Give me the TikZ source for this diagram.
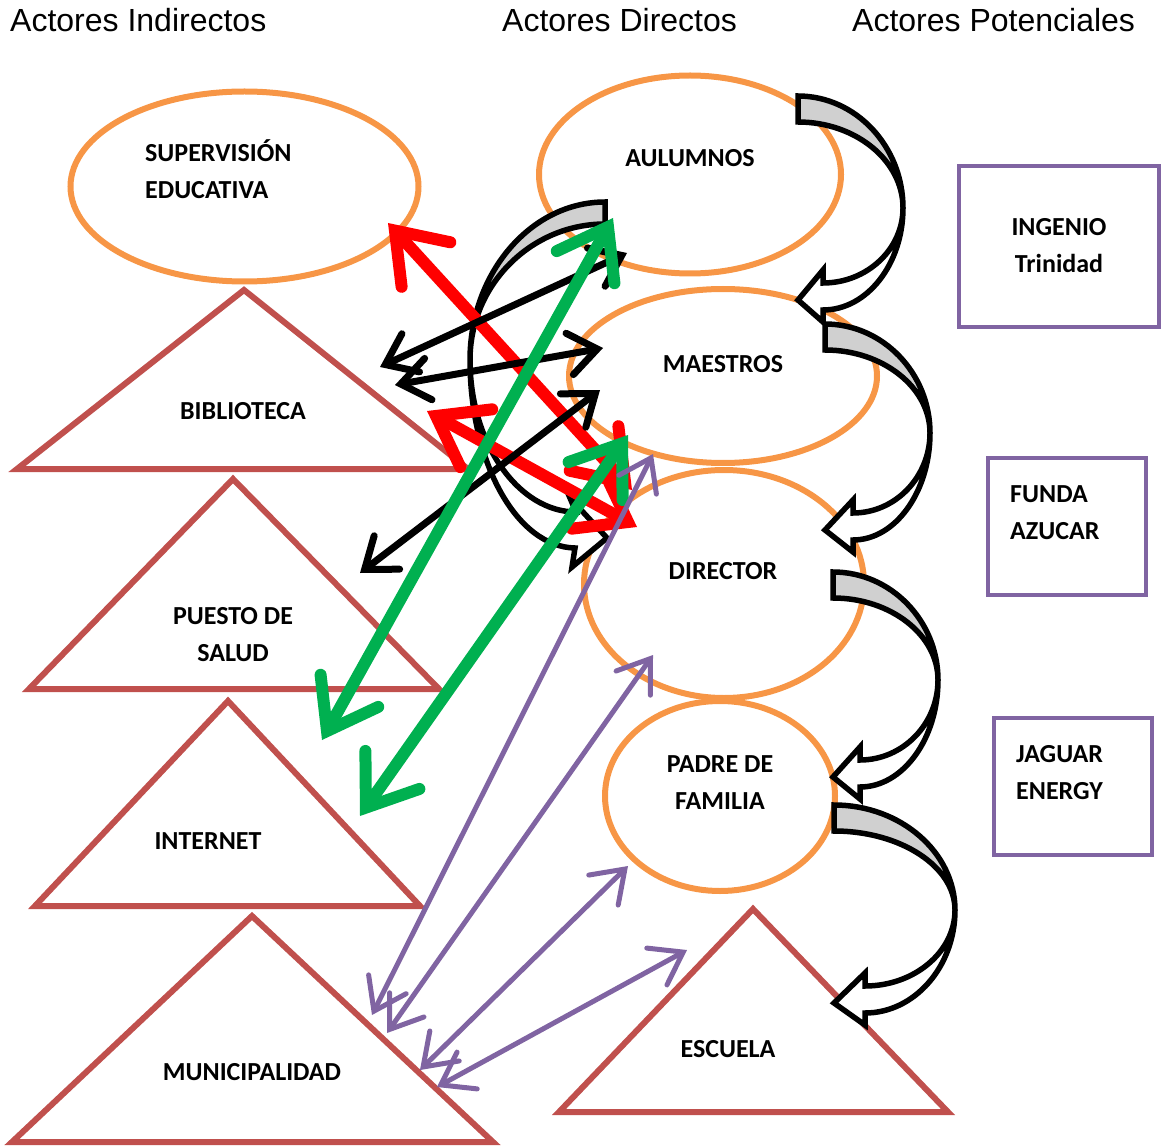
\documentclass[tikz,border=0pt]{standalone}
\usepackage{fontspec}
\setmainfont{Liberation Sans}
\newfontfamily\lblfont{Carlito}
\usetikzlibrary{arrows.meta,shapes.geometric}
\definecolor{orng}{HTML}{F79646}
\definecolor{brn}{HTML}{C0504D}
\definecolor{purp}{HTML}{8064A2}
\definecolor{grn}{HTML}{00B050}
\definecolor{redc}{HTML}{FF0000}
\definecolor{grayfill}{HTML}{D0D0D0}
\tikzset{
  ell/.style={ellipse, draw=orng, line width=6pt, inner sep=0pt},
  tri/.style={draw=brn, line width=6pt, line join=miter},
  box/.style={draw=purp, line width=4.5pt},
  cblock/.style={draw=black, line width=5.5pt, line join=miter},
  title/.style={font=\fontsize{32}{38}\selectfont, inner sep=0pt, anchor=base west},
  lbl/.style={font=\lblfont\bfseries\fontsize{26}{37}\selectfont, inner sep=0pt, anchor=base},
  lbll/.style={lbl, anchor=base west},
  redarr/.style={draw=redc, line width=12pt, >={Straight Barb[length=46pt,width=66pt,line cap=round,line join=miter]}, <->},
  grnarr/.style={draw=grn, line width=12pt, >={Straight Barb[length=46pt,width=66pt,line cap=round,line join=miter]}, <->},
  blkarr/.style={draw=black, line width=7pt, >={Straight Barb[length=28pt,width=42pt,line cap=round,line join=miter]}, <->},
  prparr/.style={draw=purp, line width=5pt, >={Straight Barb[length=30pt,width=42pt,line cap=round,line join=miter]}, <->}
}
% curved block arrow: x0, y0, xR, yR, yT, xb
\newcommand\curvarr[6]{%
  \filldraw[cblock, fill=grayfill] (#1,#2) .. controls ({#1+0.55*(#3-#1)},#2) and (#3,{#4-0.55*(#4-#2)}) .. (#3,#4)
    .. controls (#3,{#4-0.55*(#4-#2-26)}) and ({#1+0.55*(#3-#1)},{#2+26}) .. (#1,{#2+26}) -- cycle;
  \filldraw[cblock, fill=white] (#3,#4) .. controls (#3,{#4+0.55*(#5+10-#4)}) and ({#6+0.55*(#3-#6)},{#5+10}) .. (#6,{#5+10})
    -- (#6,{#5+22}) -- (#1,#5) -- (#6,{#5-30}) -- (#6,{#5-17})
    .. controls ({#6+0.55*(#3-#6)},{#5-17}) and (#3,{#4+0.55*(#5-17-#4)}) .. (#3,#4) -- cycle;
}
\begin{document}
\begin{tikzpicture}[x=1pt,y=-1pt]
\useasboundingbox (0,0) rectangle (1164,1147);

% titles
\node[title] (t1) at (10,32) {Actores Indirectos};
\node[title] (t2) at (502,32) {Actores Directos};
\node[title] (t3) at (852,32) {Actores Potenciales};

% ellipses
\node[ell, minimum width=348pt, minimum height=190pt] (sup) at (244.5,186.5) {};
\node[ell, minimum width=302pt, minimum height=198pt] (alu) at (690,174.5) {};
\node[ell, minimum width=308pt, minimum height=174pt] (mae) at (723,376) {};
\node[ell, minimum width=280pt, minimum height=228pt] (dir) at (724,584) {};
\node[ell, minimum width=230pt, minimum height=190pt] (pad) at (720,796) {};

% triangles
\draw[tri] (244,290) -- (468,469) -- (17,469) -- cycle;
\draw[tri] (233,479) -- (439,689) -- (29,689) -- cycle;
\draw[tri] (228,701) -- (420,906) -- (35,906) -- cycle;
\draw[tri] (252,916) -- (493,1142) -- (12,1142) -- cycle;
\draw[tri] (753,909) -- (948,1112) -- (559,1112) -- cycle;

% boxes
\draw[box] (959,166) rectangle (1159,327);
\draw[box] (988,458) rectangle (1146,595);
\draw[box] (994,718) rectangle (1152,855);

% labels
\node[lbll] (l1a) at (145,162) {SUPERVISIÓN};
\node[lbll] (l1b) at (145,199) {EDUCATIVA};
\node[lbl] (l2) at (690,167) {AULUMNOS};
\node[lbl] (l3) at (723,372) {MAESTROS};
\node[lbl] (l4) at (723,579) {DIRECTOR};
\node[lbl] (l5a) at (720,772) {PADRE DE};
\node[lbl] (l5b) at (720,809) {FAMILIA};
\node[lbl] (l6) at (243,419) {BIBLIOTECA};
\node[lbl] (l7a) at (233,624) {PUESTO DE};
\node[lbl] (l7b) at (233,661) {SALUD};
\node[lbl] (l8) at (208,849) {INTERNET};
\node[lbl] (l9) at (252,1080) {MUNICIPALIDAD};
\node[lbl] (l10) at (728,1057) {ESCUELA};
\node[lbl] (l11a) at (1059,236) {INGENIO};
\node[lbl] (l11b) at (1059,273) {Trinidad};
\node[lbll] (l12a) at (1010,502) {FUNDA};
\node[lbll] (l12b) at (1010,539) {AZUCAR};
\node[lbll] (l13a) at (1016,762) {JAGUAR};
\node[lbll] (l13b) at (1016,799) {ENERGY};

% curved block arrows (right side)
\curvarr{798}{96}{903}{208}{300}{823}
\curvarr{825}{324}{930}{433}{530}{853}
\curvarr{833}{572}{938}{680}{777}{860}
\curvarr{834}{805}{955}{910}{1003}{865}

% big curved arrow on the left
\filldraw[cblock, fill=grayfill] (605,202) .. controls (531,202) and (470,273) .. (470,360)
  .. controls (470,285) and (531,224) .. (605,224) -- cycle;
\filldraw[cblock, fill=white] (470,360) .. controls (470,463) and (517,547) .. (575,548)
  -- (572,567) -- (607,538) -- (570,498) -- (576,512)
  .. controls (519,512) and (470,444) .. (470,360) -- cycle;

% arrow end points
\coordinate (r1a) at (388,223); \coordinate (r1b) at (632,490);
\coordinate (r2a) at (427,411); \coordinate (r2b) at (637,527);
\coordinate (b1a) at (380,367); \coordinate (b1b) at (627,253);
\coordinate (b2a) at (395,385); \coordinate (b2b) at (603,348);
\coordinate (b3a) at (360,573); \coordinate (b3b) at (600,390);
\coordinate (g1a) at (613,218); \coordinate (g1b) at (322,740);
\coordinate (g2a) at (628,435); \coordinate (g2b) at (360,816);
\coordinate (p1a) at (653,454); \coordinate (p1b) at (372,1015);
\coordinate (p2a) at (653,655); \coordinate (p2b) at (387,1033);
\coordinate (p3a) at (628,866); \coordinate (p3b) at (420,1070);
\coordinate (p4a) at (687,950); \coordinate (p4b) at (437,1087);

\draw[redarr] (r1a) -- (r1b);
\draw[redarr] (r2a) -- (r2b);
\draw[blkarr] (b1a) -- (b1b);
\draw[blkarr] (b2a) -- (b2b);
\draw[blkarr] (b3a) -- (b3b);
\draw[grnarr] (g1a) -- (g1b);
\draw[grnarr] (g2a) -- (g2b);
\draw[prparr] (p1a) -- (p1b);
\draw[prparr] (p2a) -- (p2b);
\draw[prparr] (p3a) -- (p3b);
\draw[prparr] (p4a) -- (p4b);
\end{tikzpicture}
\end{document}
